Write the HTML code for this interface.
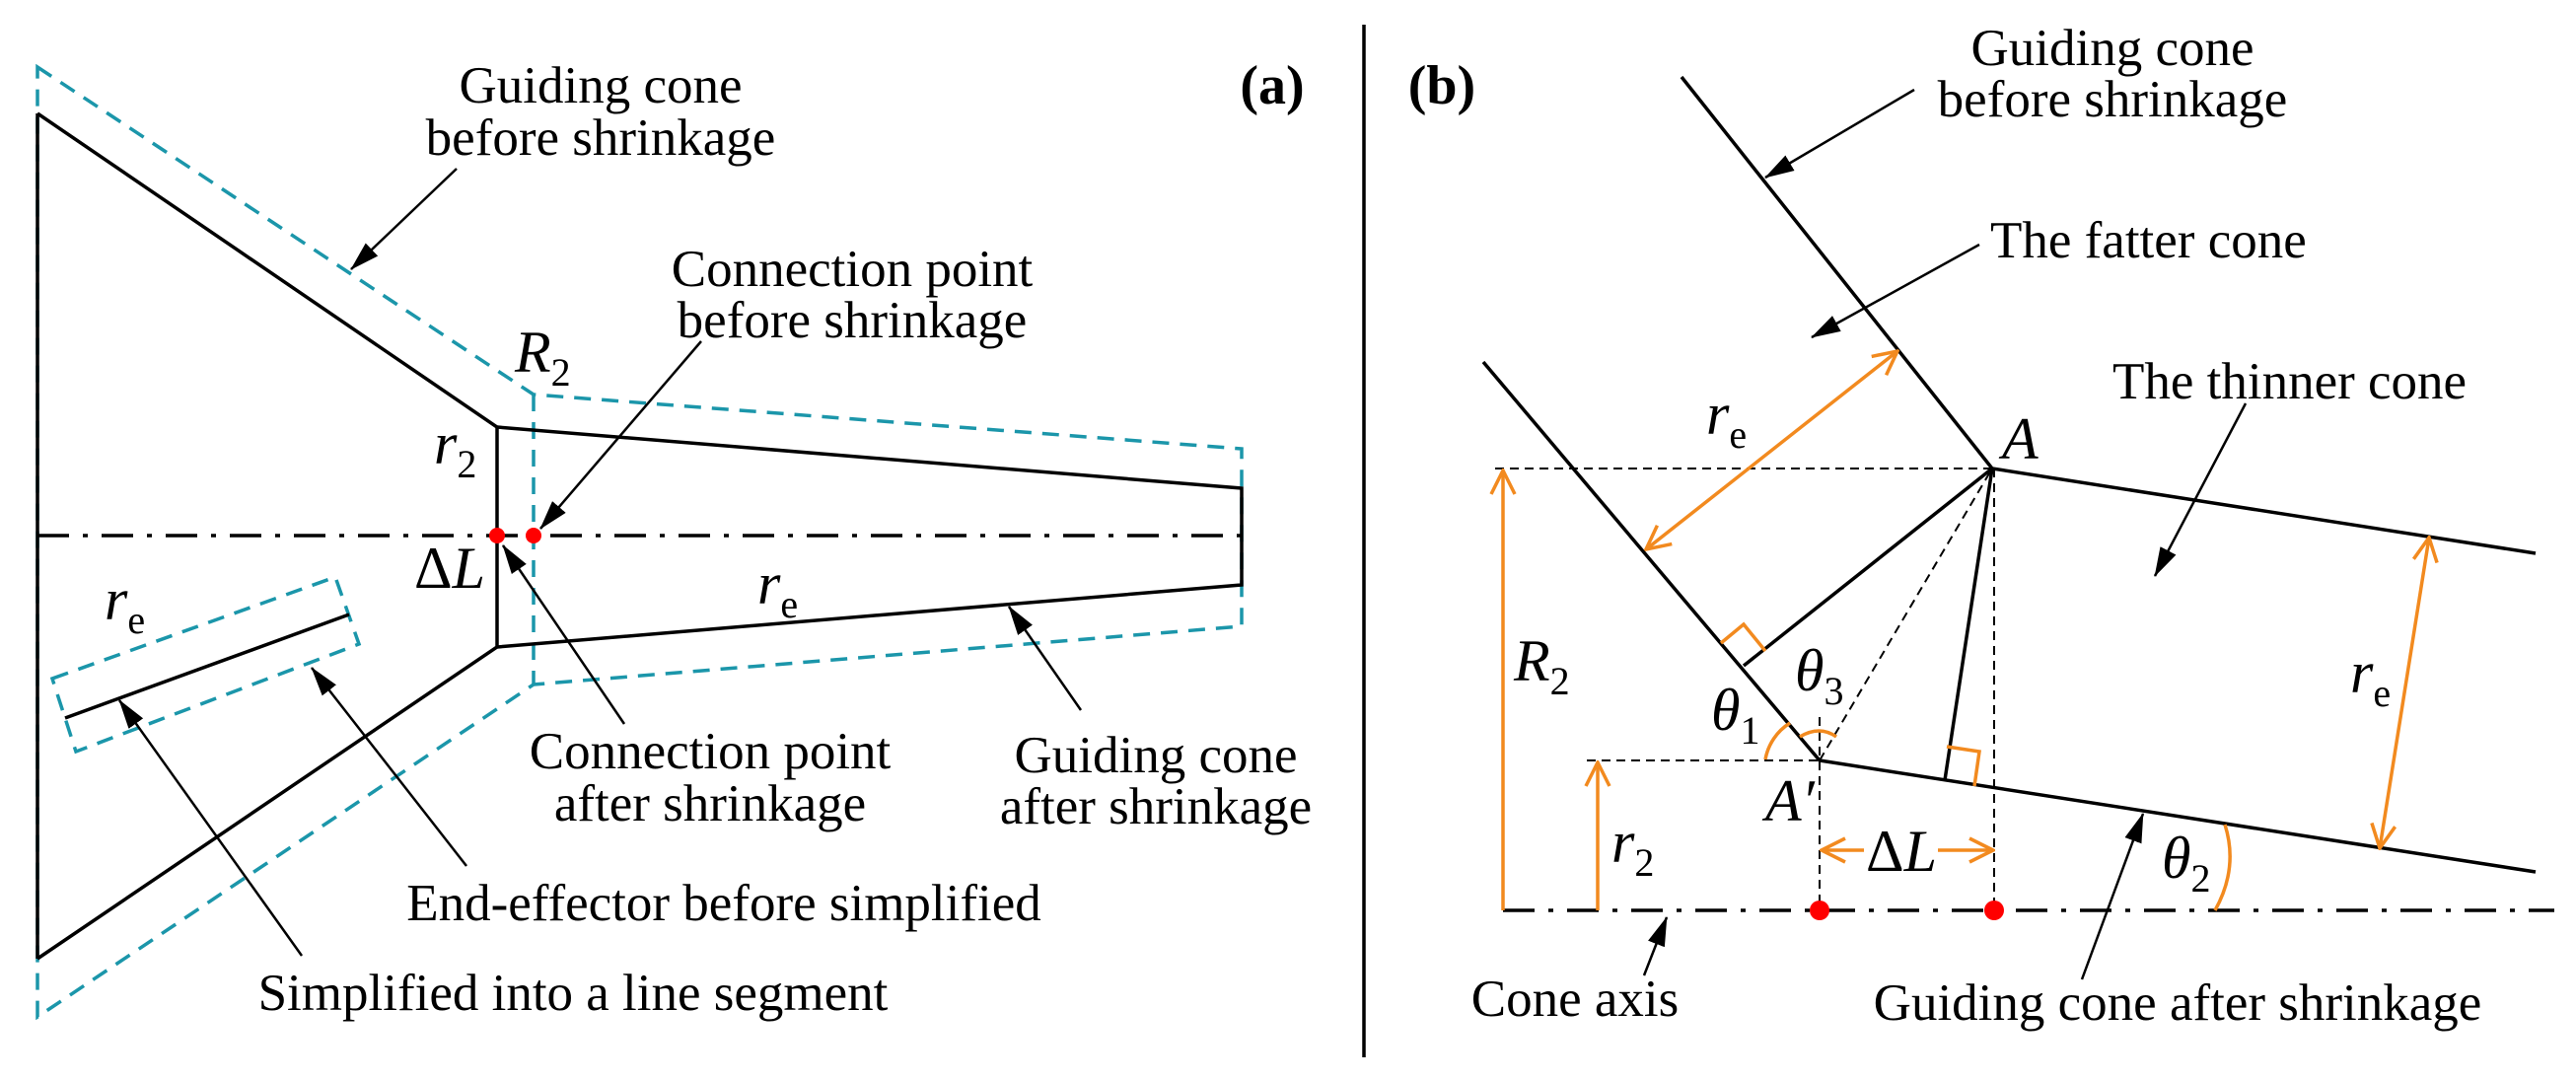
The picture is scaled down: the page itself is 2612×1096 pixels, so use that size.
<!DOCTYPE html>
<html><head><meta charset="utf-8"><style>
html,body{margin:0;padding:0;background:#fff;}
svg{display:block;}
text{font-family:"Liberation Serif",serif;fill:#000;}
.lb{font-size:53px;text-anchor:middle;}
.it{font-style:italic;font-size:60px;}
.sb{font-style:normal;font-size:40px;}
</style></head><body>
<svg width="2612" height="1096" viewBox="0 0 2612 1096" xmlns="http://www.w3.org/2000/svg">
<defs>
<marker id="ah" viewBox="0 0 30 20" refX="29" refY="10" markerWidth="30" markerHeight="20" markerUnits="userSpaceOnUse" orient="auto">
<path d="M0,1 L30,10 L0,19 Z" fill="#000"/></marker>
<marker id="oa" viewBox="0 0 30 30" refX="28" refY="15" markerWidth="30" markerHeight="30" markerUnits="userSpaceOnUse" orient="auto">
<path d="M4,3 L28,15 L4,27" fill="none" stroke="#f28a1f" stroke-width="3.5"/></marker>
<marker id="oas" viewBox="0 0 30 30" refX="2" refY="15" markerWidth="30" markerHeight="30" markerUnits="userSpaceOnUse" orient="auto">
<path d="M26,3 L2,15 L26,27" fill="none" stroke="#f28a1f" stroke-width="3.5"/></marker>
</defs>
<g fill="none" stroke-linejoin="miter">
<!-- Panel a -->
<g stroke="#1b96aa" stroke-width="3.5" stroke-dasharray="17 11">
<path d="M38,68 L541,400 L1259,455 L1259,635 L541,694 L38,1031 Z"/>
<path d="M541,400 L541,694"/>
<path d="M53,688 L340,585 L364,653 L77,762 Z"/>
</g>
<g stroke="#000" stroke-width="3.5">
<path d="M38,115 L38,972"/>
<path d="M38,115 L504,433 L504,656 L38,972"/>
<path d="M504,433 L1259,495 L1259,593 L504,656"/>
<path d="M66,728 L354,623"/>
</g>
<path d="M38,543 L1259,543" stroke="#000" stroke-width="3.5" stroke-dasharray="32 14 5 14"/>
<g stroke="#000" stroke-width="2.5" marker-end="url(#ah)">
<path d="M463,171 L356,273"/>
<path d="M711,346 L548,536"/>
<path d="M633,734 L510,553"/>
<path d="M1096,720 L1023,615"/>
<path d="M473,878 L316,677"/>
<path d="M306,969 L121,710"/>
</g>
<!-- divider -->
<path d="M1383,25 L1383,1072" stroke="#000" stroke-width="3.5"/>
<!-- Panel b -->
<g stroke="#000" stroke-width="3.5">
<path d="M1705,78 L2020,475 L2571,561"/>
<path d="M1504,367 L1845,771 L2571,884"/>
<path d="M2020,475 L1768,675"/>
<path d="M2020,475 L1972,791"/>
</g>
<path d="M1524,923 L2590,923" stroke="#000" stroke-width="3.5" stroke-dasharray="32 14 5 14"/>
<g stroke="#000" stroke-width="2" stroke-dasharray="9 6">
<path d="M1516,475 L2022,475"/>
<path d="M1609,771 L1845,771"/>
<path d="M1845,727 L1845,923"/>
<path d="M2022,475 L2022,923"/>
<path d="M1845,771 L2020,475"/>
</g>
<g stroke="#f28a1f" stroke-width="3.5">
<path d="M1524,923 L1524,477" marker-end="url(#oa)"/>
<path d="M1620,923 L1620,773" marker-end="url(#oa)"/>
<path d="M1669,557 L1924,356" marker-start="url(#oas)" marker-end="url(#oa)"/>
<path d="M2413,860 L2463,545" marker-start="url(#oas)" marker-end="url(#oa)"/>
<path d="M1847,862 L1890,862" marker-start="url(#oas)"/>
<path d="M1965,862 L2021,862" marker-end="url(#oa)"/>
<path d="M1745,652 L1768,633 L1790,660"/>
<path d="M1974,757 L2007,762 L2002,797"/>
<path d="M1790,770 A55,55 0 0 1 1815,733"/>
<path d="M1825,747 Q1845,735 1862,747"/>
<path d="M2256,836 Q2270,880 2246,923"/>
</g>
<g stroke="#000" stroke-width="2.5" marker-end="url(#ah)">
<path d="M1941,91 L1790,180"/>
<path d="M2007,248 L1837,342"/>
<path d="M2277,409 L2185,584"/>
<path d="M1667,989 L1690,930"/>
<path d="M2111,993 L2173,825"/>
</g>
</g>
<g fill="#f00">
<circle cx="504" cy="543" r="8"/><circle cx="541" cy="543" r="8"/>
<circle cx="1845" cy="923" r="10"/><circle cx="2022" cy="923" r="10"/>
</g>
<!-- labels panel a -->
<text class="lb" x="609" y="104">Guiding cone</text>
<text class="lb" x="609" y="157">before shrinkage</text>
<text class="lb" x="864" y="290">Connection point</text>
<text class="lb" x="864" y="342">before shrinkage</text>
<text class="lb" x="720" y="779">Connection point</text>
<text class="lb" x="720" y="832">after shrinkage</text>
<text class="lb" x="1172" y="783">Guiding cone</text>
<text class="lb" x="1172" y="835">after shrinkage</text>
<text class="lb" x="734" y="933">End-effector before simplified</text>
<text class="lb" x="581" y="1024">Simplified into a line segment</text>
<text x="1290" y="105" style="font-size:56px;font-weight:bold;text-anchor:middle">(a)</text>
<text class="it" x="522" y="377">R<tspan class="sb" dy="14">2</tspan></text>
<text class="it" x="440" y="470">r<tspan class="sb" dy="14">2</tspan></text>
<text class="it" x="420" y="596" style="font-style:normal">Δ<tspan style="font-style:italic">L</tspan></text>
<text class="it" x="106" y="628">r<tspan class="sb" dy="14">e</tspan></text>
<text class="it" x="768" y="612">r<tspan class="sb" dy="14">e</tspan></text>
<!-- labels panel b -->
<text x="1462" y="105" style="font-size:56px;font-weight:bold;text-anchor:middle">(b)</text>
<text class="lb" x="2142" y="66">Guiding cone</text>
<text class="lb" x="2142" y="118">before shrinkage</text>
<text class="lb" x="2018" y="261" style="text-anchor:start">The fatter cone</text>
<text class="lb" x="2142" y="404" style="text-anchor:start">The thinner cone</text>
<text class="lb" x="1597" y="1030">Cone axis</text>
<text class="lb" x="2208" y="1034">Guiding cone after shrinkage</text>
<text class="it" x="2030" y="465">A</text>
<text class="it" x="1730" y="440">r<tspan class="sb" dy="14">e</tspan></text>
<text class="it" x="2383" y="702">r<tspan class="sb" dy="14">e</tspan></text>
<text class="it" x="1535" y="690">R<tspan class="sb" dy="14">2</tspan></text>
<text class="it" x="1634" y="874">r<tspan class="sb" dy="14">2</tspan></text>
<text class="it" x="1735" y="740">θ<tspan class="sb" dy="14">1</tspan></text>
<text class="it" x="1820" y="700">θ<tspan class="sb" dy="14">3</tspan></text>
<text class="it" x="2192" y="890">θ<tspan class="sb" dy="14">2</tspan></text>
<text class="it" x="1790" y="832">A′</text>
<text class="it" x="1892" y="883" style="font-style:normal">Δ<tspan style="font-style:italic">L</tspan></text>
</svg>
</body></html>
